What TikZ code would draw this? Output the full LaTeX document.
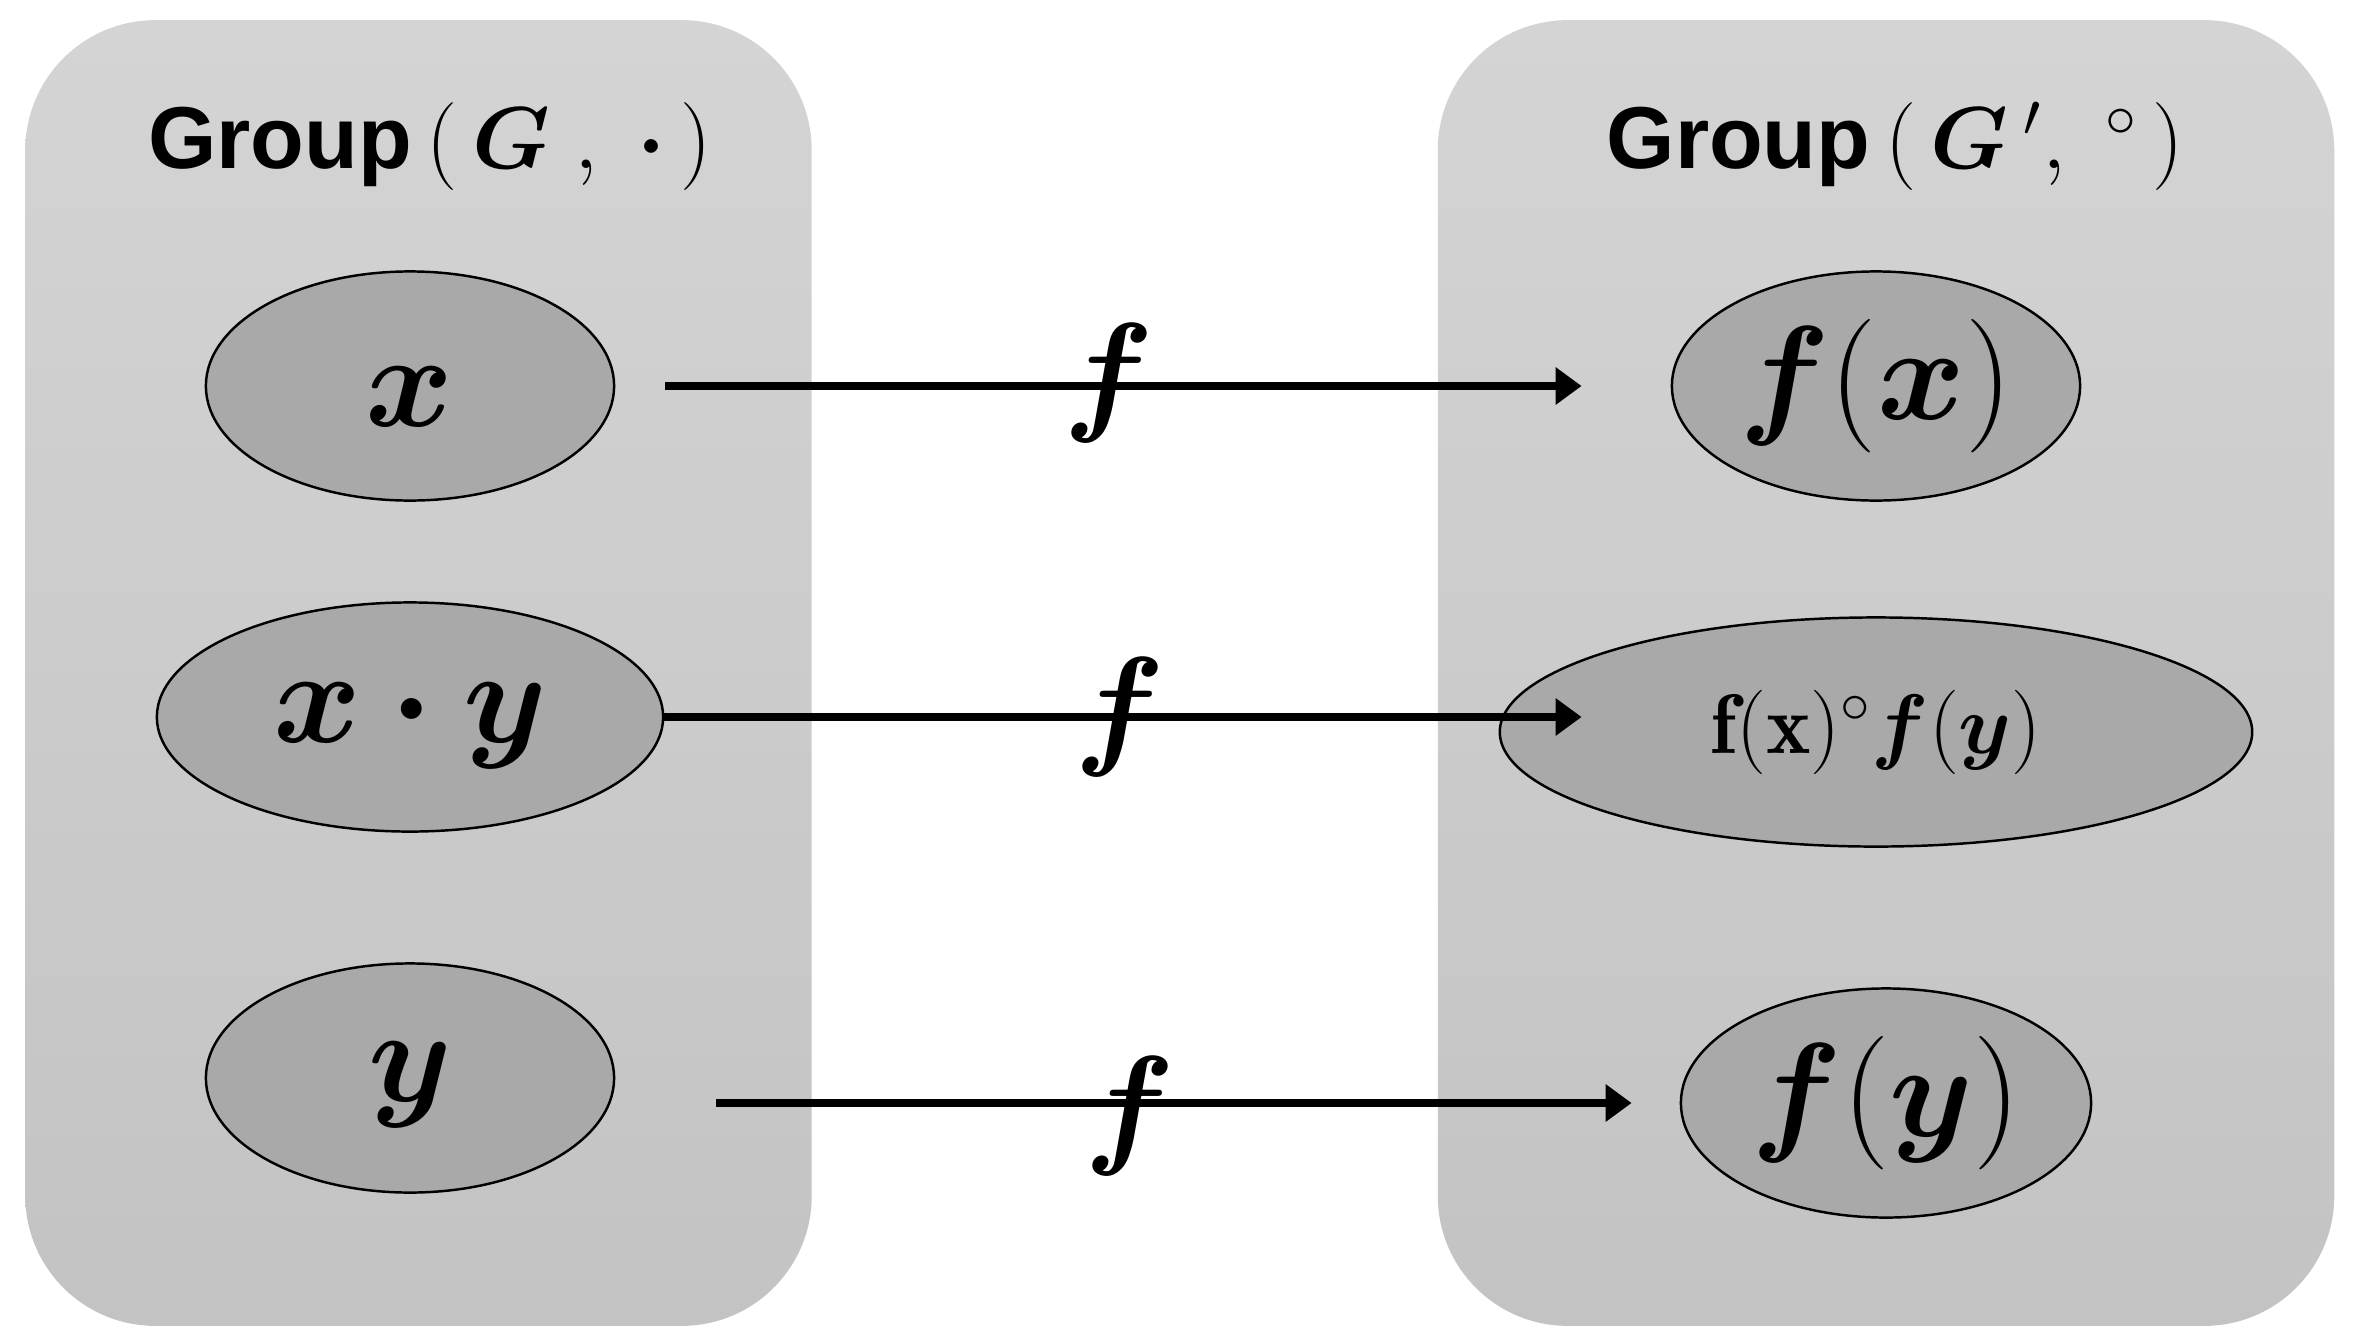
\RequirePackage{fix-cm}
\documentclass[tikz,border=0pt]{standalone}
\usepackage{fontspec}
\usepackage{amsmath}
\usepackage{bm}
\newfontfamily\arialfont{Liberation Sans}
\usetikzlibrary{shapes.geometric,arrows.meta}
\definecolor{boxtop}{HTML}{D4D4D4}
\definecolor{boxbot}{HTML}{C3C3C3}
\definecolor{ellfill}{HTML}{A9A9A9}
\begin{document}
\begin{tikzpicture}[x=0.01cm,y=-0.01cm,
  panel/.style={rectangle,rounded corners=1.3cm,draw=none,top color=boxtop,bottom color=boxbot,minimum height=13.05cm,inner sep=0pt},
  elem/.style={ellipse,draw=black,line width=0.7pt,fill=ellfill,inner sep=0pt,minimum height=2.29cm},
  big/.style={font=\fontsize{38}{42}\selectfont},
  small/.style={font=\fontsize{24}{28}\selectfont},
  ttl/.style={anchor=base,inner sep=0pt,font=\fontsize{25}{30}\selectfont},
  flab/.style={inner sep=0pt,font=\fontsize{38}{42}\selectfont},
  arr/.style={line width=2.2pt,-{Triangle[length=0.26cm,width=0.36cm]}}]
\useasboundingbox (0,0) rectangle (2357,1342);
% panels
\node[panel,minimum width=7.86cm] (lbox) at (418.5,673) {};
\node[panel,minimum width=8.96cm] (rbox) at (1886,673) {};
% titles
\node[ttl] (tl) at (430,168) {{\arialfont\bfseries Group}\,$(\,\bm{G}\;,\;\bm{\cdot}\,)$};
\node[ttl] (tr) at (1895,168) {{\arialfont\bfseries Group}\,$(\,\bm{G}\,',\;{}^{\circ}\,)$};
% left elements
\node[elem,minimum width=4.08cm,big,text height=0.8cm,text depth=0pt] (ex) at (410,386) {$\bm{x}$};
\node[elem,minimum width=5.06cm,big,text height=0.77cm,text depth=0.26cm] (exy) at (410,717) {$\bm{x\cdot y}$};
\node[elem,minimum width=4.08cm,big,text height=0.72cm,text depth=0.26cm] (ey) at (410,1078) {$\bm{y}$};
% right elements
\node[elem,minimum width=4.08cm,big] (efx) at (1876,386) {$\bm{f}(\bm{x})$};
\node[elem,minimum width=7.52cm,small] (efxy) at (1876,732) {$\mathbf{f}(\mathbf{x})^{\circ}\bm{f}(\bm{y})$};
\node[elem,minimum width=4.10cm,big] (efy) at (1886,1103) {$\bm{f}(\bm{y})$};
% arrows
\draw[arr] ([xshift=0.5cm]ex.east) -- ([xshift=-0.89cm]efx.west);
\draw[arr] (exy.east) -- ([xshift=0.83cm]efxy.west |- exy.east);
\draw[arr] ([xshift=1.01cm]ey.east |- efy.west) -- ([xshift=-0.48cm]efy.west);
% labels
\node[flab] (f1) at (1109,383) {$\bm{f}$};
\node[flab] (f2) at (1120,717) {$\bm{f}$};
\node[flab] (f3) at (1130,1116) {$\bm{f}$};
\end{tikzpicture}
\end{document}
